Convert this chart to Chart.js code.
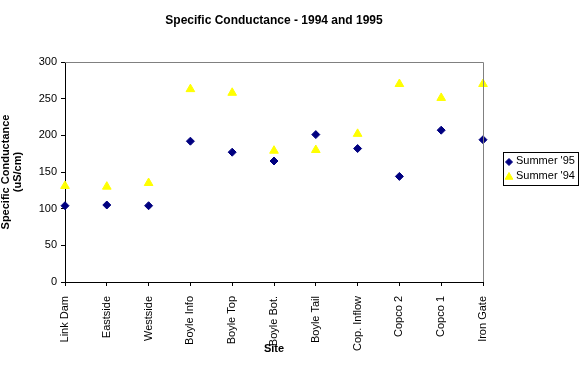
<!DOCTYPE html>
<html>
<head>
<meta charset="utf-8">
<script src="https://cdn.jsdelivr.net/npm/chart.js@4.4.1/dist/chart.umd.min.js"></script>
<style>
  html, body { margin: 0; padding: 0; background: #fff; }
  #wrap { width: 586px; height: 381px; position: relative; }
</style>
</head>
<body>
<div id="wrap"><canvas id="chart"></canvas></div>
<script>
// data
const sites = ['Link Dam', 'Eastside', 'Westside', 'Boyle Info', 'Boyle Top', 'Boyle Bot.',
  'Boyle Tail', 'Cop. Inflow', 'Copco 2', 'Copco 1', 'Iron Gate'];
const summer95 = [104, 105, 104, 192, 177, 165, 201, 182, 144, 207, 194];
const summer94 = [131, 130, 135, 263, 258, 179, 180, 202, 270, 251, 270];
const yTicks = [0, 50, 100, 150, 200, 250, 300];

const fontFam = "Arial, 'Liberation Sans', sans-serif";

// titel en legenda zelf tekenen, plus de grijze rand boven en rechts
const extras = {
  id: 'extras',
  afterDraw(chart) {
    let ctx = chart.ctx;
    let area = chart.chartArea;
    ctx.save();

    // grijze rand
    ctx.strokeStyle = '#808080';
    ctx.lineWidth = 1;
    ctx.beginPath();
    ctx.moveTo(area.left, area.top + 0.5);
    ctx.lineTo(area.right + 0.5, area.top + 0.5);
    ctx.lineTo(area.right + 0.5, area.bottom);
    ctx.stroke();

    // titel
    ctx.fillStyle = '#000';
    ctx.font = 'bold 12px ' + fontFam;
    ctx.textAlign = 'center';
    ctx.textBaseline = 'middle';
    ctx.fillText('Specific Conductance - 1994 and 1995', (area.left + area.right) / 2, 21);

    // legenda
    let lx = 503, ly = 152, lw = 75, lh = 33;
    ctx.strokeStyle = '#000';
    ctx.strokeRect(lx + 0.5, ly + 0.5, lw, lh);
    ctx.font = '11px ' + fontFam;
    ctx.textAlign = 'left';
    chart.data.datasets.forEach((ds, i) => {
      let cy = ly + 9 + i * 15;
      ctx.fillStyle = ds.backgroundColor;
      ctx.strokeStyle = ds.borderColor;
      Chart.helpers.drawPoint(ctx, {
        pointStyle: ds.pointStyle,
        radius: ds.pointRadius - 0.5,
        borderWidth: 1
      }, lx + 6, cy + 1);
      ctx.fillStyle = '#000';
      ctx.fillText(ds.label, lx + 13, cy);
    });
    ctx.restore();
  }
};

new Chart(document.getElementById('chart'), {
  type: 'line',
  data: {
    labels: sites,
    datasets: [
      {
        label: "Summer '95",
        data: summer95,
        showLine: false,
        pointStyle: 'rectRot',
        pointRadius: 4,
        pointHoverRadius: 4,
        backgroundColor: '#000080',
        borderColor: '#000080',
        borderWidth: 1
      },
      {
        label: "Summer '94",
        data: summer94,
        showLine: false,
        pointStyle: 'triangle',
        pointRadius: 5,
        pointHoverRadius: 5,
        backgroundColor: '#FFFF00',
        borderColor: '#FFFF00',
        borderWidth: 1
      }
    ]
  },
  options: {
    responsive: true,
    maintainAspectRatio: false,
    animation: false,
    events: [],
    layout: { padding: { top: 62, right: 103, left: 0, bottom: 0 } },
    plugins: {
      legend: { display: false },
      title: { display: false },
      tooltip: { enabled: false }
    },
    scales: {
      x: {
        offset: false,
        afterFit: function(scale) { scale.height = 99; },
        grid: {
          drawOnChartArea: false,
          drawTicks: true,
          tickLength: 4,
          color: '#000'
        },
        border: { color: '#000', width: 1 },
        ticks: {
          minRotation: 90,
          maxRotation: 90,
          autoSkip: false,
          padding: 10,
          color: '#000',
          font: { family: fontFam, size: 11 }
        },
        title: {
          display: true,
          text: 'Site',
          color: '#000',
          font: { family: fontFam, size: 11, weight: 'bold' },
          padding: { top: 0, bottom: 25 }
        }
      },
      y: {
        min: 0,
        max: 300,
        afterFit: function(scale) { scale.width = 65; },
        afterBuildTicks: function(scale) {
          scale.ticks = yTicks.map(v => ({ value: v }));
        },
        grid: {
          drawOnChartArea: false,
          drawTicks: true,
          tickLength: 4,
          color: '#000'
        },
        border: { color: '#000', width: 1 },
        ticks: {
          padding: 4,
          color: '#000',
          font: { family: fontFam, size: 11 }
        },
        title: {
          display: true,
          text: ['Specific Conductance', '(uS/cm)'],
          color: '#000',
          font: { family: fontFam, size: 11, weight: 'bold', lineHeight: 1.1 },
          padding: { top: 0, bottom: 0 }
        }
      }
    }
  },
  plugins: [extras]
});
</script>
</body>
</html>
